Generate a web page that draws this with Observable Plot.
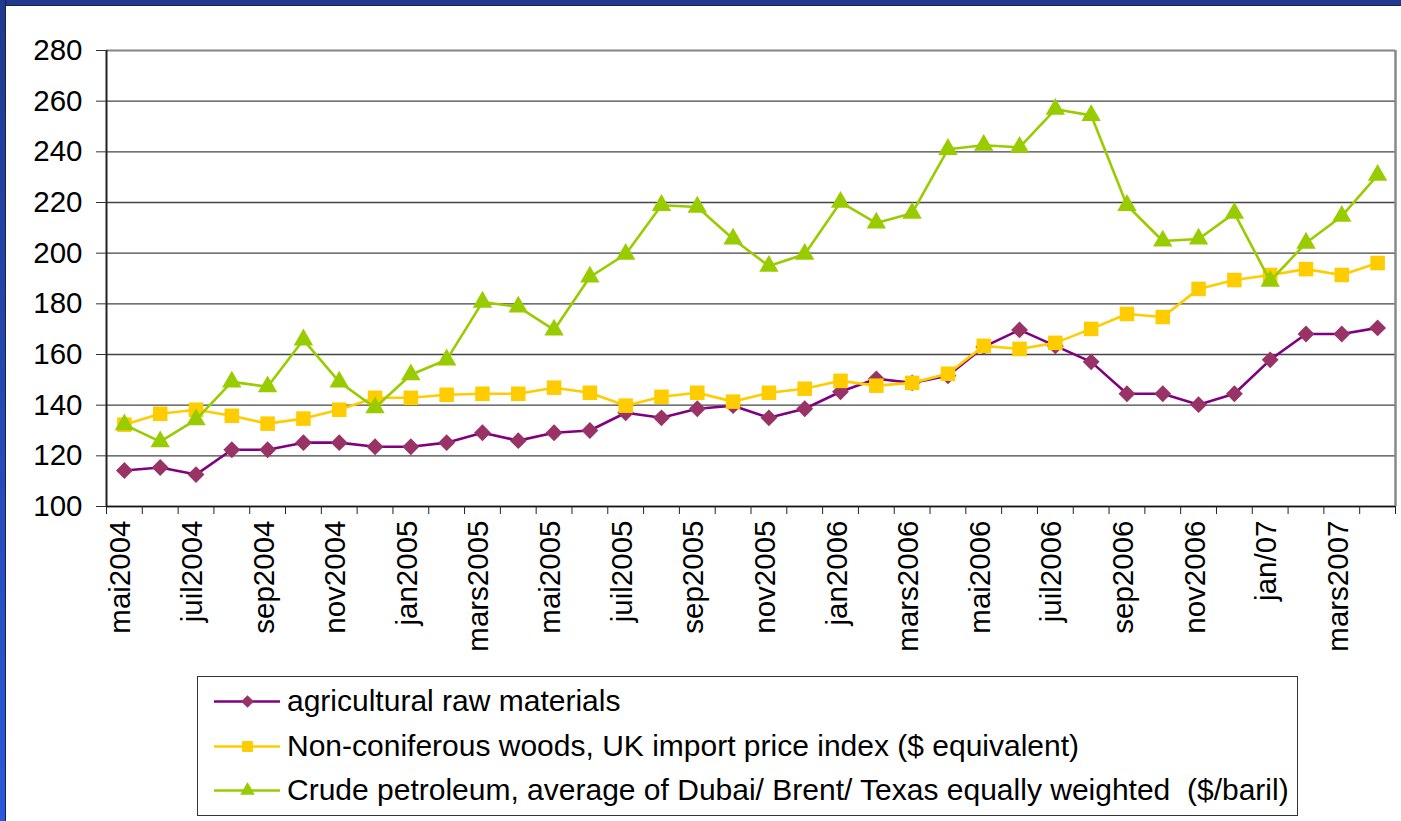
<!DOCTYPE html>
<html>
<head>
<meta charset="utf-8">
<script src="https://cdn.jsdelivr.net/npm/d3@7"></script>
<script src="https://cdn.jsdelivr.net/npm/@observablehq/plot@0.6"></script>
<style>
  html, body { margin: 0; padding: 0; background: #ffffff; width: 1401px; height: 821px; overflow: hidden; font-family: "Liberation Sans", Arial, sans-serif; }
  #topbar { position: absolute; left: 0; top: 0; width: 1401px; height: 5px; background: #1f3a8e; border-bottom: 1px solid #1a2040; }
  #leftbar { position: absolute; left: 0; top: 0; width: 5px; height: 821px; background: linear-gradient(#1f3a8e, #2b58dc); border-right: 1px solid #1a2040; }
  #chart { position: absolute; left: 0; top: 0; }
  #legend { position: absolute; left: 197px; top: 676px; width: 1099px; height: 138px; border: 1px solid #333; background: #fff; }
  .row { position: absolute; left: 0; height: 40px; display: flex; align-items: center; white-space: pre; font-size: 30px; color: #000; }
  .row svg { margin-left: 16px; margin-right: 7px; }
</style>
</head>
<body>
<div id="chart"></div>
<div id="topbar"></div>
<div id="leftbar"></div>
<div id="legend"></div>
<script>
const months = ["mai2004","juin2004","juil2004","août2004","sep2004","oct2004","nov2004","déc2004",
  "jan2005","fév2005","mars2005","avr2005","mai2005","juin2005","juil2005","août2005","sep2005","oct2005","nov2005","déc2005",
  "jan2006","fév2006","mars2006","avr2006","mai2006","juin2006","juil2006","août2006","sep2006","oct2006","nov2006","déc2006",
  "jan/07","fév/07","mars2007","avr2007"];
const agricultural = [114.2,115.4,112.6,122.4,122.4,125.2,125.2,123.6,123.6,125.2,129.1,126,129.1,130,137,135,138.6,139.8,135,138.6,
  145.3,150.4,148.8,151.6,163,169.7,163.4,157.1,144.5,144.5,140.2,144.5,157.9,168.1,168.1,170.5];
const woods = [132.3,136.6,138.2,135.8,132.7,134.7,138.2,142.9,142.9,144.1,144.5,144.5,146.9,144.9,139.8,143.3,144.9,141.4,144.9,146.5,
  149.6,147.7,148.8,152.4,163.4,162.2,164.6,170.1,176,174.8,185.9,189.4,191.4,193.7,191.4,196.1];
const crude = [132.3,125.6,134.3,149.2,147.3,165.8,149.2,139,152,157.9,180.7,178.8,169.7,190.6,199.6,218.9,218.2,205.6,194.9,199.6,
  220.1,211.9,215.8,241,242.6,241.8,256.8,254.4,218.9,204.8,205.6,215.8,189,204,214.6,230.8];
const seriesNames = ["agricultural raw materials",
  "Non-coniferous woods, UK import price index ($ equivalent)",
  "Crude petroleum, average of Dubai/ Brent/ Texas equally weighted  ($/baril)"];
const yTicks = [100,120,140,160,180,200,220,240,260,280];

const styles = [
  {line: "#800080", fill: "#993366", symbol: "diamond2", r: 7.6},
  {line: "#ffcc00", fill: "#ffcc00", symbol: "square", r: 8.2},
  {line: "#99cc00", fill: "#99cc00", symbol: "triangle", r: 7.2}
];
const seriesValues = [agricultural, woods, crude];
const rows = [];
seriesValues.forEach((vals, s) => vals.forEach((v, i) => rows.push({s, i, v})));

const labelIdx = months.map((m, i) => i).filter(i => i % 2 === 0);
const boundaries = d3.range(-0.5, months.length, 1);

const marks = [
  Plot.ruleY(yTicks, {stroke: "#444", strokeWidth: 1.3}),
  Plot.ruleY([280], {stroke: "#888", strokeWidth: 1.5}),
  Plot.ruleX([months.length - 0.5], {stroke: "#888", strokeWidth: 2.5}),
  Plot.ruleX([-0.5], {stroke: "#222", strokeWidth: 2}),
  Plot.ruleY([100], {stroke: "#111", strokeWidth: 1.5}),
  Plot.axisY({ticks: yTicks, tickSize: 10, tickPadding: 14, fontSize: 29.5, label: null, stroke: "#333", fill: "#000"}),
  Plot.axisX({ticks: boundaries, tickSize: 8, tickFormat: () => "", label: null, stroke: "#222"}),
  Plot.text(labelIdx, {x: d => d, text: d => months[d], frameAnchor: "bottom", rotate: -90, textAnchor: "end", dy: 14, dx: 6, fontSize: 29.5, fill: "#000"})
];
styles.forEach((st, s) => {
  const data = rows.filter(d => d.s === s);
  marks.push(Plot.line(data, {x: "i", y: "v", stroke: st.line, strokeWidth: 2.6}));
  marks.push(Plot.dot(data, {x: "i", y: "v", symbol: () => st.symbol, r: st.r, fill: st.fill, stroke: "none"}));
});

const chart = Plot.plot({
  width: 1401,
  height: 660,
  marginLeft: 106,
  marginRight: 6,
  marginTop: 50,
  marginBottom: 154,
  style: {background: "transparent", fontFamily: "'Liberation Sans', Arial, sans-serif"},
  x: {type: "linear", domain: [-0.5, months.length - 0.5], axis: null},
  y: {domain: [100, 280], axis: null},
  symbol: {type: "identity"},
  marks
});
document.getElementById("chart").appendChild(chart);

// legend built from the same series definitions
const legend = document.getElementById("legend");
const tops = [4, 49, 93];
seriesNames.forEach((name, s) => {
  const st = styles[s];
  const row = document.createElement("div");
  row.className = "row";
  row.style.top = tops[s] + "px";
  const sw = Plot.plot({
    width: 66, height: 30, margin: 0,
    x: {domain: [0, 2], axis: null}, y: {domain: [0, 1], axis: null},
    symbol: {type: "identity"},
    style: {background: "transparent"},
    marks: [
      Plot.line([{x: 0, y: 0.5}, {x: 2, y: 0.5}], {x: "x", y: "y", stroke: st.line, strokeWidth: 2.6}),
      Plot.dot([{x: 1, y: 0.5}], {x: "x", y: "y", symbol: () => st.symbol, r: st.r * 0.75, fill: st.fill, stroke: "none"})
    ]
  });
  row.appendChild(sw);
  const span = document.createElement("span");
  span.textContent = name;
  row.appendChild(span);
  legend.appendChild(row);
});
</script>
</body>
</html>
